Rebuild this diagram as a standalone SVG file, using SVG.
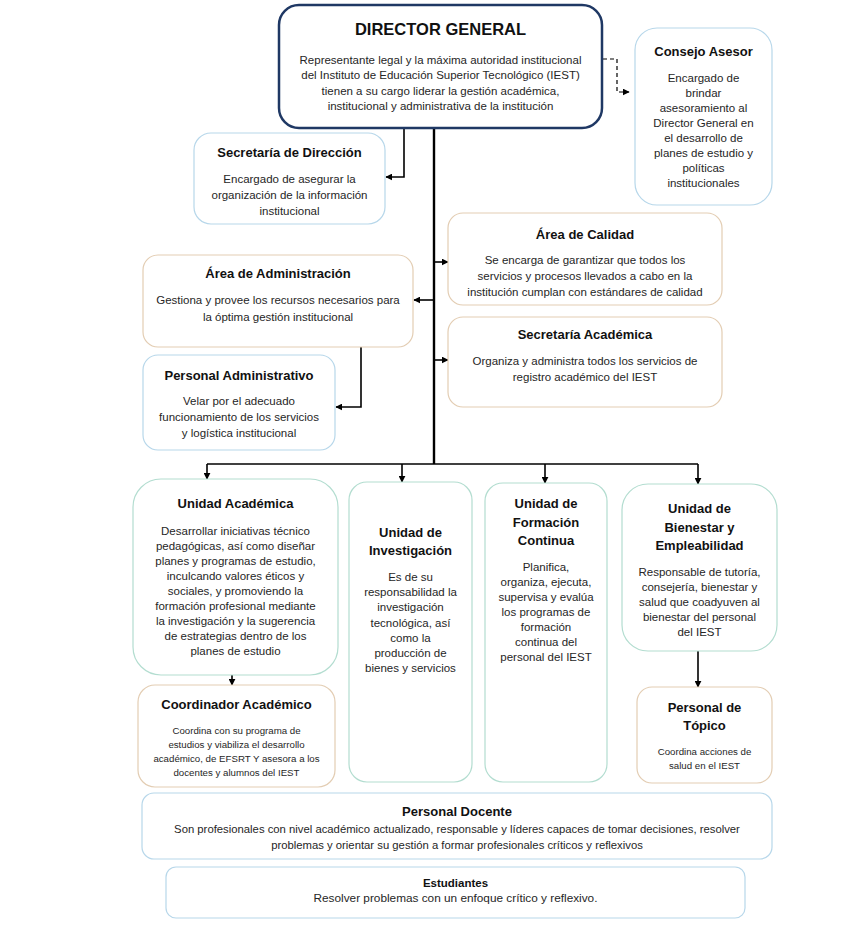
<svg xmlns="http://www.w3.org/2000/svg" width="865" height="941" viewBox="0 0 865 941">
<defs>
<style>
text{font-family:"Liberation Sans",Arial,sans-serif;fill:#262626;text-anchor:middle}
.t{font-weight:bold;font-size:13px;fill:#111}
.b{font-size:11.5px}
.s{font-size:9.7px}
.box{fill:#fff;stroke-width:1.2}
.blue{stroke:#b7d7ea}
.tan{stroke:#e3cdb3}
.green{stroke:#b3ddd0}
.ln{fill:none;stroke:#000;stroke-width:1.6}
</style>
<marker id="ah" viewBox="0 0 10 10" refX="9" refY="5" markerWidth="7" markerHeight="7" markerUnits="userSpaceOnUse" orient="auto"><path d="M0,0 L10,5 L0,10 z" fill="#000"/></marker>
</defs>
<rect width="865" height="941" fill="#fff"/>

<g id="connectors">
<path class="ln" d="M434,128 V464" style="stroke-width:2.4"/>
<path class="ln" d="M404,128 V177 H386" marker-end="url(#ah)"/>
<path class="ln" d="M434,262 H448" marker-end="url(#ah)"/>
<path class="ln" d="M434,300 H414" marker-end="url(#ah)"/>
<path class="ln" d="M434,360 H448" marker-end="url(#ah)"/>
<path class="ln" d="M361,347 V407 H336" marker-end="url(#ah)"/>
<path class="ln" d="M207,464 H698"/>
<path class="ln" d="M207,464 V479" marker-end="url(#ah)"/>
<path class="ln" d="M402,464 V482" marker-end="url(#ah)"/>
<path class="ln" d="M545,464 V483" marker-end="url(#ah)"/>
<path class="ln" d="M698,464 V484" marker-end="url(#ah)"/>
<path class="ln" d="M232,675 V685" marker-end="url(#ah)"/>
<path class="ln" d="M698,651 V687" marker-end="url(#ah)"/>
<path class="ln" d="M603,59 H617 V92 H629" stroke-dasharray="4,3" style="stroke-width:1.2" marker-end="url(#ah)"/>
</g>

<g id="director">
<rect x="279" y="5" width="323" height="123" rx="20" fill="#fff" stroke="#1f3864" stroke-width="2.5"/>
<text x="440.5" y="35" style="font-weight:bold;font-size:16.5px;fill:#111">DIRECTOR GENERAL</text>
<text class="b" x="440.5" y="64">Representante legal y la máxima autoridad institucional</text>
<text class="b" x="440.5" y="79">del Instituto de Educación Superior Tecnológico (IEST)</text>
<text class="b" x="440.5" y="95">tienen a su cargo liderar la gestión académica,</text>
<text class="b" x="440.5" y="110">institucional y administrativa de la institución</text>
</g>

<g id="consejo">
<rect class="box blue" x="635" y="28" width="137" height="177" rx="22"/>
<text class="t" x="703.5" y="56">Consejo Asesor</text>
<text class="b" x="703.5" y="82">Encargado de</text>
<text class="b" x="703.5" y="97">brindar</text>
<text class="b" x="703.5" y="112">asesoramiento al</text>
<text class="b" x="703.5" y="127">Director General en</text>
<text class="b" x="703.5" y="142">el desarrollo de</text>
<text class="b" x="703.5" y="157">planes de estudio y</text>
<text class="b" x="703.5" y="172">políticas</text>
<text class="b" x="703.5" y="187">institucionales</text>
</g>

<g id="secretaria-direccion">
<rect class="box blue" x="194" y="133" width="191" height="91" rx="17"/>
<text class="t" x="289.5" y="157">Secretaría de Dirección</text>
<text class="b" x="289.5" y="183">Encargado de asegurar la</text>
<text class="b" x="289.5" y="199">organización de la información</text>
<text class="b" x="289.5" y="215">institucional</text>
</g>

<g id="area-calidad">
<rect class="box tan" x="448" y="213" width="274" height="92" rx="15"/>
<text class="t" x="585" y="239">Área de Calidad</text>
<text class="b" x="585" y="264">Se encarga de garantizar que todos los</text>
<text class="b" x="585" y="280">servicios y procesos llevados a cabo en la</text>
<text class="b" x="585" y="296">institución cumplan con estándares de calidad</text>
</g>

<g id="area-administracion">
<rect class="box tan" x="143" y="255" width="270" height="92" rx="15"/>
<text class="t" x="278" y="278">Área de Administración</text>
<text class="b" x="278" y="304">Gestiona y provee los recursos necesarios para</text>
<text class="b" x="278" y="321">la óptima gestión institucional</text>
</g>

<g id="secretaria-academica">
<rect class="box tan" x="448" y="317" width="274" height="90" rx="15"/>
<text class="t" x="585" y="339">Secretaría Académica</text>
<text class="b" x="585" y="365">Organiza y administra todos los servicios de</text>
<text class="b" x="585" y="381">registro académico del IEST</text>
</g>

<g id="personal-administrativo">
<rect class="box blue" x="143" y="355" width="192" height="95" rx="15"/>
<text class="t" x="239" y="380">Personal Administrativo</text>
<text class="b" x="239" y="405">Velar por el adecuado</text>
<text class="b" x="239" y="421">funcionamiento de los servicios</text>
<text class="b" x="239" y="437">y logística institucional</text>
</g>

<g id="unidad-academica">
<rect class="box green" x="133" y="479" width="205" height="196" rx="28"/>
<text class="t" x="235.5" y="508">Unidad Académica</text>
<text class="b" x="235.5" y="535">Desarrollar iniciativas técnico</text>
<text class="b" x="235.5" y="550">pedagógicas, así como diseñar</text>
<text class="b" x="235.5" y="565">planes y programas de estudio,</text>
<text class="b" x="235.5" y="580">inculcando valores éticos y</text>
<text class="b" x="235.5" y="595">sociales, y promoviendo la</text>
<text class="b" x="235.5" y="610">formación profesional mediante</text>
<text class="b" x="235.5" y="625">la investigación y la sugerencia</text>
<text class="b" x="235.5" y="640">de estrategias dentro de los</text>
<text class="b" x="235.5" y="655">planes de estudio</text>
</g>

<g id="unidad-investigacion">
<rect class="box green" x="349" y="482" width="123" height="300" rx="18"/>
<text class="t" x="410.5" y="537">Unidad de</text>
<text class="t" x="410.5" y="555">Investigación</text>
<text class="b" x="410.5" y="581">Es de su</text>
<text class="b" x="410.5" y="596">responsabilidad la</text>
<text class="b" x="410.5" y="611">investigación</text>
<text class="b" x="410.5" y="627">tecnológica, así</text>
<text class="b" x="410.5" y="642">como la</text>
<text class="b" x="410.5" y="657">producción de</text>
<text class="b" x="410.5" y="672">bienes y servicios</text>
</g>

<g id="unidad-formacion">
<rect class="box green" x="485" y="483" width="122" height="299" rx="18"/>
<text class="t" x="546" y="508">Unidad de</text>
<text class="t" x="546" y="527">Formación</text>
<text class="t" x="546" y="545">Continua</text>
<text class="b" x="546" y="571">Planifica,</text>
<text class="b" x="546" y="586">organiza, ejecuta,</text>
<text class="b" x="546" y="601">supervisa y evalúa</text>
<text class="b" x="546" y="616">los programas de</text>
<text class="b" x="546" y="631">formación</text>
<text class="b" x="546" y="646">continua del</text>
<text class="b" x="546" y="661">personal del IEST</text>
</g>

<g id="unidad-bienestar">
<rect class="box green" x="622" y="484" width="155" height="167" rx="26"/>
<text class="t" x="699.5" y="513">Unidad de</text>
<text class="t" x="699.5" y="532">Bienestar y</text>
<text class="t" x="699.5" y="550">Empleabilidad</text>
<text class="b" x="699.5" y="576">Responsable de tutoría,</text>
<text class="b" x="699.5" y="591">consejería, bienestar y</text>
<text class="b" x="699.5" y="606">salud que coadyuven al</text>
<text class="b" x="699.5" y="621">bienestar del personal</text>
<text class="b" x="699.5" y="636">del IEST</text>
</g>

<g id="coordinador-academico">
<rect class="box tan" x="138" y="685" width="197" height="102" rx="17"/>
<text class="t" x="236.5" y="709">Coordinador Académico</text>
<text class="s" x="236.5" y="734">Coordina con su programa de</text>
<text class="s" x="236.5" y="748">estudios y viabiliza el desarrollo</text>
<text class="s" x="236.5" y="762">académico, de EFSRT Y asesora a los</text>
<text class="s" x="236.5" y="776">docentes y alumnos del IEST</text>
</g>

<g id="personal-topico">
<rect class="box tan" x="637" y="687" width="135" height="96" rx="15"/>
<text class="t" x="704.5" y="712">Personal de</text>
<text class="t" x="704.5" y="730">Tópico</text>
<text class="s" x="704.5" y="755">Coordina acciones de</text>
<text class="s" x="704.5" y="769">salud en el IEST</text>
</g>

<g id="personal-docente">
<rect class="box blue" x="142" y="793" width="630" height="66" rx="12"/>
<text class="t" x="457" y="816">Personal Docente</text>
<text x="457" y="833" style="font-size:11.3px">Son profesionales con nivel académico actualizado, responsable y líderes capaces de tomar decisiones, resolver</text>
<text x="457" y="849" style="font-size:11.3px">problemas y orientar su gestión a formar profesionales críticos y reflexivos</text>
</g>

<g id="estudiantes">
<rect class="box blue" x="166" y="867" width="579" height="51" rx="10"/>
<text x="455.5" y="887" style="font-weight:bold;font-size:11.5px;fill:#111">Estudiantes</text>
<text x="455.5" y="902" style="font-size:11.8px">Resolver problemas con un enfoque crítico y reflexivo.</text>
</g>
</svg>
